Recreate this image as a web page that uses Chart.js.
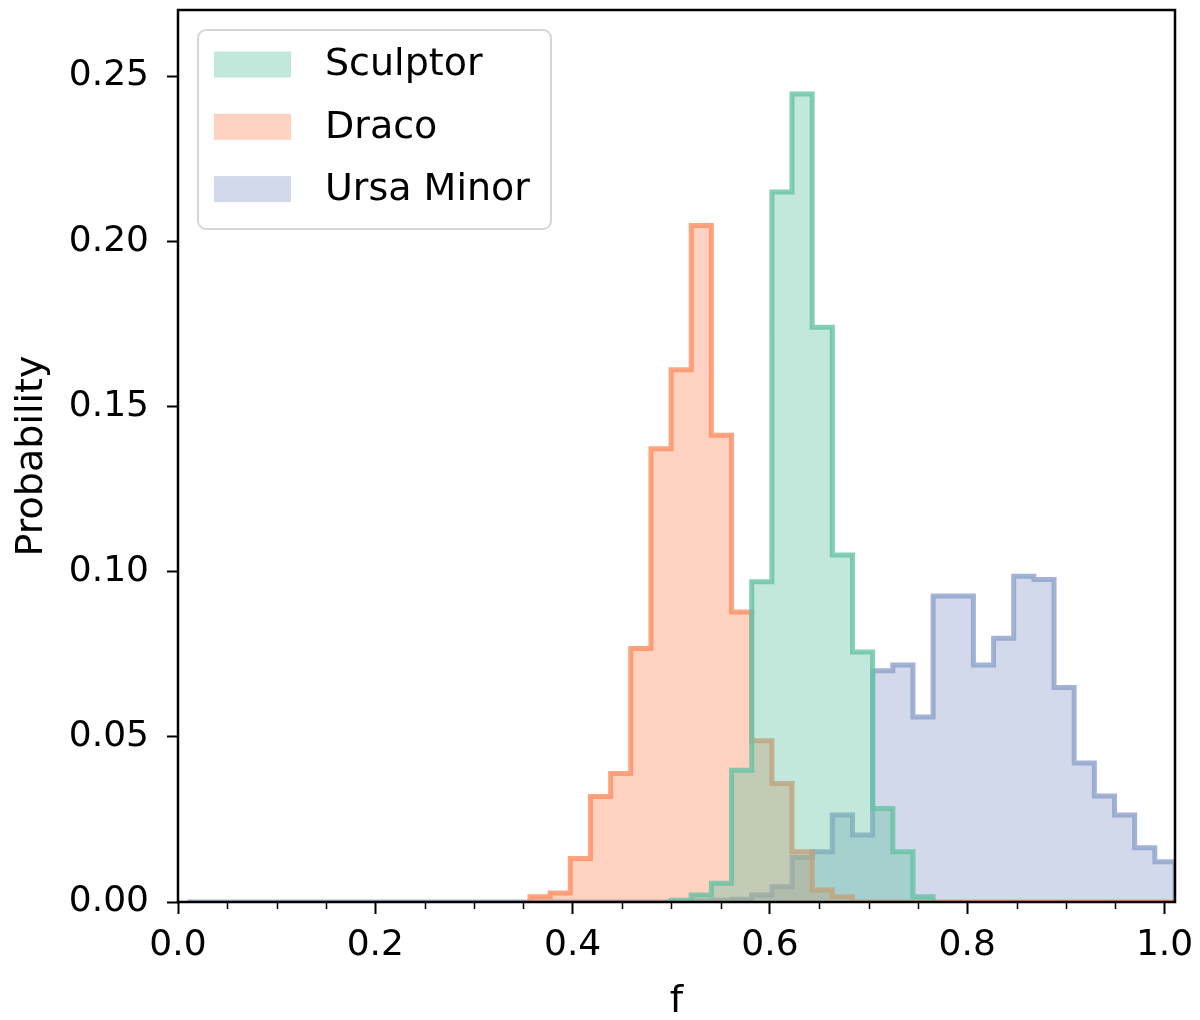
<!DOCTYPE html>
<html>
<head>
<meta charset="utf-8">
<script src="https://cdn.jsdelivr.net/npm/chart.js@4.4.1/dist/chart.umd.min.js"></script>
<style>
  body { margin: 0; background: #fff; }
</style>
</head>
<body>
<canvas id="chart" width="1200" height="1020"></canvas>
<script>
// histogram bins (same bins for the three galaxies)
const binStart = 0.0095;
const binWidth = 0.02043;

// probability per bin (49 bins)
const sculptor = [
  0, 0, 0, 0, 0, 0, 0, 0, 0, 0,
  0, 0, 0, 0, 0, 0, 0, 0, 0, 0,
  0, 0, 0, 0, 0.0005, 0.0021, 0.0057, 0.0399, 0.0969, 0.2149,
  0.2446, 0.174, 0.105, 0.0757, 0.0283, 0.0152, 0.0016, 0, 0, 0,
  0, 0, 0, 0, 0, 0, 0, 0, 0
];
const draco = [
  0, 0, 0, 0, 0, 0, 0, 0, 0, 0,
  0, 0, 0, 0, 0, 0, 0, 0.0016, 0.0027, 0.0132,
  0.0319, 0.0389, 0.0767, 0.1372, 0.1611, 0.2048, 0.1413, 0.0878, 0.0488, 0.0359,
  0.0152, 0.0036, 0.0016, 0, 0, 0, 0, 0, 0, 0,
  0, 0, 0, 0, 0, 0, 0, 0, 0
];
const ursaMinor = [
  0, 0, 0, 0, 0, 0, 0, 0, 0, 0,
  0, 0, 0, 0, 0, 0, 0, 0, 0, 0,
  0, 0, 0, 0, 0, 0.0003, 0.0005, 0.0008, 0.0021, 0.0046,
  0.0135, 0.0152, 0.0263, 0.0203, 0.070, 0.0717, 0.056, 0.0926, 0.0926, 0.0717,
  0.0798, 0.0986, 0.0976, 0.0649, 0.0421, 0.0321, 0.0263, 0.0164, 0.0122
];

const seriesNames = ["Sculptor", "Draco", "Ursa Minor"];
const xMinorTicks = [0.05, 0.1, 0.15, 0.25, 0.3, 0.35, 0.45, 0.5, 0.55, 0.65, 0.7, 0.75, 0.85, 0.9, 0.95];

// outline of a stepfilled histogram, optionally without empty bins at the ends
function steps(vals, trimLeft, trimRight) {
  let lo = 0, hi = vals.length - 1;
  if (trimLeft) while (lo < hi && vals[lo] === 0) lo++;
  if (trimRight) while (hi > lo && vals[hi] === 0) hi--;
  const pts = [{ x: binStart + lo * binWidth, y: 0 }];
  for (let i = lo; i <= hi; i++) pts.push({ x: binStart + i * binWidth, y: vals[i] });
  pts.push({ x: binStart + (hi + 1) * binWidth, y: 0 });
  return pts;
}

function ds(label, pts, rgb, order) {
  return {
    label: label,
    data: pts,
    stepped: true,
    fill: "origin",
    backgroundColor: "rgba(" + rgb + ",0.4)",
    borderColor: "rgba(" + rgb + ",0.8)",
    borderWidth: 5,
    borderJoinStyle: "miter",
    borderCapStyle: "butt",
    pointRadius: 0,
    clip: 0,
    order: order
  };
}

// frame on top of the patches
const spines = {
  id: "spines",
  afterDatasetsDraw(chart) {
    const c = chart.ctx, a = chart.chartArea;
    c.save();
    c.strokeStyle = "#000";
    c.lineWidth = 2.5;
    c.strokeRect(a.left, a.top, a.right - a.left, a.bottom - a.top);
    c.restore();
  }
};

// minor ticks on x
const minorTicks = {
  id: "minorTicks",
  afterDraw(chart) {
    const c = chart.ctx, sx = chart.scales.x, b = chart.chartArea.bottom;
    c.save();
    c.strokeStyle = "#000";
    c.lineWidth = 1.5;
    xMinorTicks.forEach(v => {
      const px = Math.round(sx.getPixelForValue(v)) + 0.5;
      c.beginPath();
      c.moveTo(px, b);
      c.lineTo(px, b + 7);
      c.stroke();
    });
    c.restore();
  }
};

// legend in a rounded box, top left
const legendBox = {
  id: "legendBox",
  afterDraw(chart) {
    const c = chart.ctx, a = chart.chartArea;
    const x0 = a.left + 20, y0 = a.top + 20, w = 353, h = 199, r = 8;
    c.save();
    c.beginPath();
    c.moveTo(x0 + r, y0);
    c.arcTo(x0 + w, y0, x0 + w, y0 + h, r);
    c.arcTo(x0 + w, y0 + h, x0, y0 + h, r);
    c.arcTo(x0, y0 + h, x0, y0, r);
    c.arcTo(x0, y0, x0 + w, y0, r);
    c.closePath();
    c.fillStyle = "rgba(255,255,255,0.8)";
    c.fill();
    c.strokeStyle = "#d6d6d6";
    c.lineWidth = 2;
    c.stroke();
    c.font = "38px 'DejaVu Sans'";
    c.textBaseline = "middle";
    seriesNames.forEach((name, i) => {
      const d = chart.data.datasets.find(s => s.label === name);
      const cy = y0 + 34.5 + i * 62.3;
      c.fillStyle = d.backgroundColor;
      c.fillRect(x0 + 16, cy - 13, 77, 26);
      c.fillStyle = "#000";
      c.fillText(name, x0 + 127, cy + 1);
    });
    c.restore();
  }
};

Chart.defaults.font.family = "'DejaVu Sans', sans-serif";
Chart.defaults.color = "#000";

new Chart(document.getElementById("chart"), {
  type: "line",
  data: {
    datasets: [
      ds(seriesNames[0], steps(sculptor, true, true), "102,194,165", 0),
      ds(seriesNames[1], steps(draco, true, false), "252,141,98", 1),
      ds(seriesNames[2], steps(ursaMinor, false, false), "141,160,203", 2)
    ]
  },
  options: {
    responsive: false,
    animation: false,
    events: [],
    layout: { padding: { left: 0, right: 25, top: 10, bottom: 0 } },
    plugins: { legend: { display: false }, tooltip: { enabled: false } },
    scales: {
      x: {
        type: "linear",
        min: 0,
        max: 1.0106,
        afterFit(s) { s.height = 118; s.paddingLeft = 0; s.paddingRight = 0; },
        border: { display: false },
        grid: { drawOnChartArea: false, tickLength: 12, tickWidth: 2, tickColor: "#000" },
        ticks: {
          stepSize: 0.2,
          includeBounds: false,
          padding: 10,
          maxRotation: 0,
          font: { size: 36 },
          callback: v => v.toFixed(1)
        },
        title: { display: true, text: "f", font: { size: 38 }, padding: { top: 0, bottom: -5 } }
      },
      y: {
        min: 0,
        max: 0.27,
        afterFit(s) { s.width = 178; s.paddingTop = 0; s.paddingBottom = 0; },
        border: { display: false },
        grid: { drawOnChartArea: false, tickLength: 11, tickWidth: 2, tickColor: "#000" },
        ticks: {
          stepSize: 0.05,
          includeBounds: false,
          padding: 18,
          font: { size: 36 },
          callback: v => v.toFixed(2)
        },
        title: { display: true, text: "Probability", font: { size: 38 }, padding: { top: 9, bottom: 0 } }
      }
    }
  },
  plugins: [spines, minorTicks, legendBox]
});
</script>
</body>
</html>
